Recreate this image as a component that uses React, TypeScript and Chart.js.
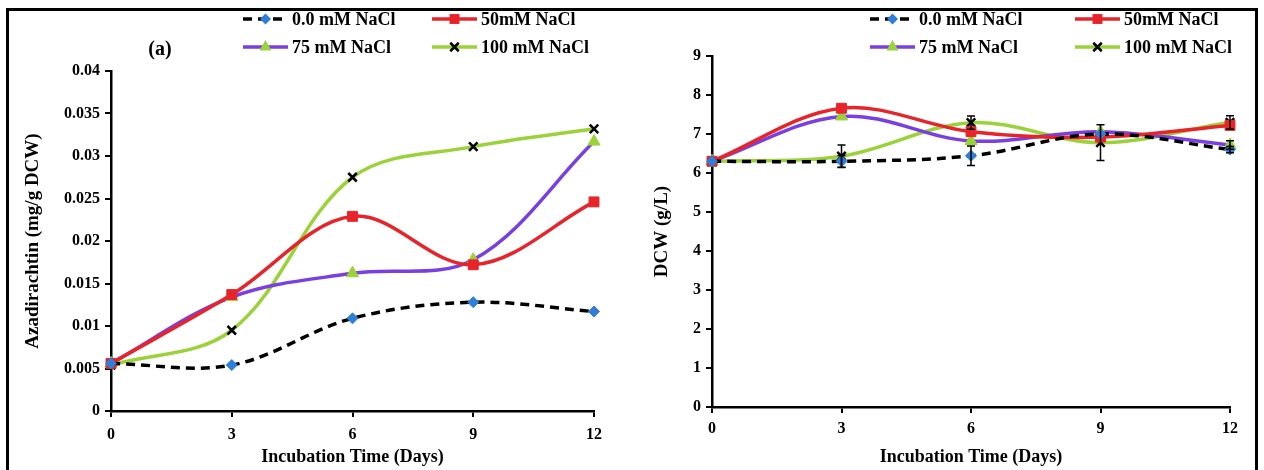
import React, { useEffect, useRef } from "react";
import { Chart, registerables } from "chart.js";

Chart.register(...registerables);

// ---------- data ----------
const days = [0, 3, 6, 9, 12];
const seriesNames = ["0.0 mM NaCl", "50mM NaCl", "75 mM NaCl", "100 mM NaCl"];

const azaControl = [0.0056, 0.0054, 0.0109, 0.0128, 0.0117];
const aza50 = [0.0056, 0.0137, 0.0229, 0.0172, 0.0246];
const aza75 = [0.0056, 0.0134, 0.0162, 0.0178, 0.0317];
const aza100 = [0.0054, 0.0095, 0.0275, 0.0311, 0.0332];

const dcwControl = [6.3, 6.3, 6.44, 7.0, 6.6];
const dcw50 = [6.3, 7.66, 7.06, 6.92, 7.22];
const dcw75 = [6.3, 7.45, 6.82, 7.06, 6.72];
const dcw100 = [6.3, 6.43, 7.29, 6.78, 7.3];

const dcwControlErr = [0, 0.15, 0.25, 0, 0.08];
const dcw50Err = [0, 0, 0, 0, 0];
const dcw75Err = [0, 0, 0, 0, 0.11];
const dcw100Err = [0, 0.29, 0.17, 0.46, 0.17];

const azaTickLabels = ["0", "0.005", "0.01", "0.015", "0.02", "0.025", "0.03", "0.035", "0.04"];
const dcwTickLabels = ["0", "1", "2", "3", "4", "5", "6", "7", "8", "9"];
const dayTickLabels = ["0", "3", "6", "9", "12"];

// ---------- styles ----------
const FONT = "'Liberation Serif', 'Times New Roman', serif";
const BLUE = "#2f7ed8";
const RED = "#e8242b";
const PURPLE = "#7a3fe0";
const GREEN = "#9bd23a";

const seriesStyles = [
  { borderColor: "#000000", borderDash: [9, 6], pointStyle: "rectRot", pointRadius: 5.5, pointBackgroundColor: BLUE, pointBorderColor: BLUE, pointBorderWidth: 1 },
  { borderColor: RED, borderDash: [], pointStyle: "rect", pointRadius: 7, pointBackgroundColor: RED, pointBorderColor: RED, pointBorderWidth: 1 },
  { borderColor: PURPLE, borderDash: [], pointStyle: "triangle", pointRadius: 7, pointBackgroundColor: GREEN, pointBorderColor: GREEN, pointBorderWidth: 1 },
  { borderColor: GREEN, borderDash: [], pointStyle: "crossRot", pointRadius: 6, pointBackgroundColor: "#000000", pointBorderColor: "#000000", pointBorderWidth: 2.5 },
];

function drawMarker(ctx: CanvasRenderingContext2D, style: string, x: number, y: number, r: number, fill: string, stroke: string, bw: number) {
  ctx.save();
  ctx.fillStyle = fill;
  ctx.strokeStyle = stroke;
  ctx.lineWidth = bw;
  ctx.setLineDash([]);
  ctx.beginPath();
  if (style === "rectRot") {
    ctx.moveTo(x - r, y);
    ctx.lineTo(x, y - r);
    ctx.lineTo(x + r, y);
    ctx.lineTo(x, y + r);
    ctx.closePath();
    ctx.fill();
  } else if (style === "rect") {
    const s = Math.SQRT1_2 * r;
    ctx.rect(x - s, y - s, 2 * s, 2 * s);
    ctx.fill();
  } else if (style === "triangle") {
    const a = (2 * Math.PI) / 3;
    ctx.moveTo(x, y - r);
    ctx.lineTo(x + Math.sin(a) * r, y - Math.cos(a) * r);
    ctx.lineTo(x + Math.sin(2 * a) * r, y - Math.cos(2 * a) * r);
    ctx.closePath();
    ctx.fill();
  } else if (style === "crossRot") {
    const d = Math.SQRT1_2 * r;
    ctx.moveTo(x - d, y - d);
    ctx.lineTo(x + d, y + d);
    ctx.moveTo(x + d, y - d);
    ctx.lineTo(x - d, y + d);
    ctx.stroke();
  }
  ctx.restore();
}

const lineLegendPlugin = {
  id: "lineLegend",
  afterDraw(chart: any, _args: any, opts: any) {
    if (!opts || !opts.items) return;
    const ctx: CanvasRenderingContext2D = chart.ctx;
    ctx.save();
    opts.items.forEach((it: any) => {
      const ds = chart.data.datasets[it.index];
      ctx.beginPath();
      ctx.setLineDash(ds.borderDash || []);
      ctx.strokeStyle = ds.borderColor;
      ctx.lineWidth = ds.borderWidth;
      ctx.moveTo(it.x, it.y);
      ctx.lineTo(it.x + opts.lineLength, it.y);
      ctx.stroke();
      ctx.setLineDash([]);
      drawMarker(ctx, ds.pointStyle, it.x + opts.lineLength / 2, it.y, ds.pointRadius, ds.pointBackgroundColor, ds.pointBorderColor, ds.pointBorderWidth);
      ctx.fillStyle = "#000";
      ctx.font = opts.font;
      ctx.textAlign = "left";
      ctx.textBaseline = "middle";
      ctx.fillText(ds.label, it.x + opts.lineLength + opts.gap, it.y + 1);
    });
    if (opts.note) {
      ctx.font = opts.note.font;
      ctx.textAlign = "center";
      ctx.textBaseline = "middle";
      ctx.fillText(opts.note.text, opts.note.x, opts.note.y);
    }
    ctx.restore();
  },
};

const errorBarPlugin = {
  id: "errorBars",
  afterDatasetsDraw(chart: any) {
    const ctx: CanvasRenderingContext2D = chart.ctx;
    const xs = chart.scales.x;
    const ys = chart.scales.y;
    ctx.save();
    ctx.strokeStyle = "#000";
    ctx.lineWidth = 1.5;
    chart.data.datasets.forEach((ds: any) => {
      if (!ds.errors) return;
      ds.data.forEach((pt: any, i: number) => {
        const e = ds.errors[i];
        if (!e) return;
        const x = xs.getPixelForValue(pt.x);
        const y1 = ys.getPixelForValue(pt.y - e);
        const y2 = ys.getPixelForValue(pt.y + e);
        ctx.beginPath();
        ctx.moveTo(x, y1);
        ctx.lineTo(x, y2);
        ctx.moveTo(x - 4, y1);
        ctx.lineTo(x + 4, y1);
        ctx.moveTo(x - 4, y2);
        ctx.lineTo(x + 4, y2);
        ctx.stroke();
      });
    });
    ctx.restore();
  },
};

function makeDatasets(values: number[][], errors?: number[][]) {
  return values.map((vals, k) => ({
    label: seriesNames[k],
    data: vals.map((v, i) => ({ x: days[i], y: v })),
    errors: errors ? errors[k] : undefined,
    borderWidth: 3.5,
    tension: 0.35,
    fill: false,
    clip: false,
    pointHoverRadius: seriesStyles[k].pointRadius,
    ...seriesStyles[k],
  }));
}

function axisOptions(cfg: any) {
  return {
    x: {
      type: "linear",
      min: 0,
      max: 12,
      afterBuildTicks: (s: any) => {
        s.ticks = days.map((d) => ({ value: d }));
      },
      afterFit: (s: any) => {
        s.height = cfg.xHeight;
      },
      ticks: {
        color: "#000",
        font: { family: FONT, size: 16, weight: "bold" },
        padding: cfg.xTickPad,
        callback: (_v: any, i: number) => dayTickLabels[i],
        maxRotation: 0,
      },
      grid: { drawOnChartArea: false, drawTicks: true, tickLength: 6, color: "#000", lineWidth: 2 },
      border: { display: true, color: "#000", width: 2.5 },
      title: {
        display: true,
        text: "Incubation Time (Days)",
        color: "#000",
        font: { family: FONT, size: 18, weight: "bold" },
        padding: { top: 0, bottom: 2 },
      },
    },
    y: {
      type: "linear",
      min: 0,
      max: cfg.yMax,
      afterBuildTicks: (s: any) => {
        s.ticks = cfg.yTickLabels.map((_l: string, i: number) => ({ value: i * cfg.yStep }));
      },
      afterFit: (s: any) => {
        s.width = cfg.yWidth;
      },
      ticks: {
        color: "#000",
        font: { family: FONT, size: 16, weight: "bold" },
        padding: 5,
        callback: (_v: any, i: number) => cfg.yTickLabels[i],
      },
      grid: { drawOnChartArea: false, drawTicks: true, tickLength: 6, color: "#000", lineWidth: 2 },
      border: { display: true, color: "#000", width: 2.5 },
      title: {
        display: true,
        text: cfg.yTitle,
        color: "#000",
        font: { family: FONT, size: 19, weight: "bold" },
        padding: { top: cfg.yTitlePad, bottom: 0 },
      },
    },
  };
}

function ChartCanvas(props: { width: number; height: number; left: number; config: () => any }) {
  const ref = useRef<HTMLCanvasElement | null>(null);
  useEffect(() => {
    if (!ref.current) return;
    const chart = new Chart(ref.current, props.config());
    return () => chart.destroy();
  }, []);
  return (
    <canvas
      ref={ref}
      width={props.width}
      height={props.height}
      style={{ position: "absolute", left: props.left, top: 0, width: props.width, height: props.height }}
    />
  );
}

const leftConfig = () => ({
  type: "line",
  data: { datasets: makeDatasets([azaControl, aza50, aza75, aza100]) },
  plugins: [lineLegendPlugin],
  options: {
    responsive: false,
    animation: false,
    events: [],
    layout: { padding: { left: 10, top: 71, right: 46, bottom: 0 } },
    plugins: {
      legend: { display: false },
      tooltip: { enabled: false },
      lineLegend: {
        lineLength: 45,
        gap: 4,
        font: `bold 18px ${FONT}`,
        items: [
          { index: 0, x: 243, y: 19 },
          { index: 1, x: 432, y: 19 },
          { index: 2, x: 243, y: 47 },
          { index: 3, x: 432, y: 47 },
        ],
        note: { text: "(a)", x: 160, y: 50, font: `bold 20px ${FONT}` },
      },
    },
    scales: axisOptions({
      xHeight: 59,
      xTickPad: 8,
      yMax: 0.04,
      yStep: 0.005,
      yTickLabels: azaTickLabels,
      yWidth: 101,
      yTitle: "Azadirachtin (mg/g DCW)",
      yTitlePad: 12,
    }),
  },
});

const rightConfig = () => ({
  type: "line",
  data: { datasets: makeDatasets([dcwControl, dcw50, dcw75, dcw100], [dcwControlErr, dcw50Err, dcw75Err, dcw100Err]) },
  plugins: [lineLegendPlugin, errorBarPlugin],
  options: {
    responsive: false,
    animation: false,
    events: [],
    layout: { padding: { left: 10, top: 56, right: 34, bottom: 0 } },
    plugins: {
      legend: { display: false },
      tooltip: { enabled: false },
      lineLegend: {
        lineLength: 45,
        gap: 4,
        font: `bold 18px ${FONT}`,
        items: [
          { index: 0, x: 230, y: 19 },
          { index: 1, x: 435, y: 19 },
          { index: 2, x: 230, y: 47 },
          { index: 3, x: 435, y: 47 },
        ],
      },
    },
    scales: axisOptions({
      xHeight: 63,
      xTickPad: 6,
      yMax: 9,
      yStep: 1,
      yTickLabels: dcwTickLabels,
      yWidth: 62,
      yTitle: "DCW (g/L)",
      yTitlePad: 1,
    }),
  },
});

export default function App() {
  return (
    <div style={{ position: "fixed", left: 0, top: 0, width: 1264, height: 470, overflow: "hidden", background: "#fff" }}>
      <ChartCanvas width={640} height={470} left={0} config={leftConfig} />
      <ChartCanvas width={624} height={470} left={640} config={rightConfig} />
      <div
        style={{
          position: "absolute",
          left: 6,
          top: 8,
          width: 1252,
          height: 500,
          boxSizing: "border-box",
          border: "3px solid #000",
          pointerEvents: "none",
        }}
      />
    </div>
  );
}
